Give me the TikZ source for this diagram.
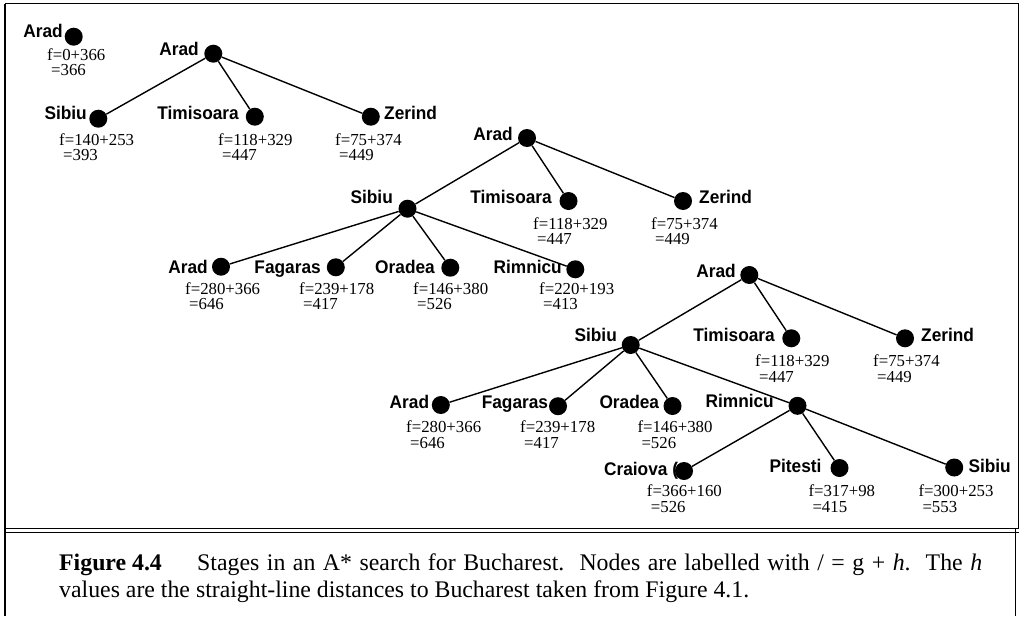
\documentclass[tikz,border=0pt]{standalone}
\usepackage{fontspec}
\setmainfont{Liberation Serif}
\newfontfamily\lblfont[FakeStretch=0.945]{Liberation Sans}
% f-value under a node: name, x, baseline y, g+h, sum
\newcommand\fgh[5]{%
  \node[fval] (#1f) at (#2,#3) {f=#4};
  \node[fval] (#1g) at ([shift={(4,15.5)}]#2,#3) {=#5};}
\begin{document}
\begin{tikzpicture}[x=1pt,y=-1pt,
  dot/.style={circle,fill=black,inner sep=0pt,minimum size=18pt},
  edge/.style={line width=1.4pt},
  cityfont/.style={font=\lblfont\bfseries\fontsize{18.3}{20}\selectfont},
  cityL/.style={cityfont,anchor=base east,inner sep=0pt},
  cityR/.style={cityfont,anchor=base west,inner sep=0pt},
  fval/.style={anchor=base west,inner sep=0pt,font=\fontsize{16.8}{18}\selectfont},
  frame/.style={line width=1.3pt},
  capt/.style={anchor=base west,inner sep=0pt,font=\fontsize{23.8}{26}\selectfont},
]
\useasboundingbox (0,0) rectangle (1024,616);

% outer frame and the double rule above the caption
\draw[frame] (5,3.5) -- (1018.5,3.5) -- (1018.5,528.5);
\draw[frame] (5,3.5) -- (5,616);
\draw[frame] (1015.5,528.5) -- (1015.5,616);
\draw[frame] (5,528.5) -- (1018.5,528.5);
\draw[frame] (5,532.3) -- (1018.5,532.3);

% stage 1
\node[dot] (t1a) at (73.7,36.7) {};
\node[cityL] (t1aL) at (63,37) {Arad};
\fgh{t1a}{47}{60}{0+366}{366}

% stage 2
\node[dot] (t2a) at (213.3,53.7) {};
\node[dot] (t2s) at (98.3,118.7) {};
\node[dot] (t2t) at (254.8,116.7) {};
\node[dot] (t2z) at (370.8,116.7) {};
\node[cityL] (t2aL) at (199,55) {Arad};
\node[cityL] (t2sL) at (87,119) {Sibiu};
\node[cityL] (t2tL) at (239,119) {Timisoara};
\node[cityR] (t2zL) at (384,119) {Zerind};
\fgh{t2s}{59}{145}{140+253}{393}
\fgh{t2t}{218}{145}{118+329}{447}
\fgh{t2z}{335}{145}{75+374}{449}
\draw[edge] (t2a) -- (t2s);
\draw[edge] (t2a) -- (t2t);
\draw[edge] (t2a) -- (t2z);

% stage 3
\node[dot] (t3a) at (527,138) {};
\node[dot] (t3s) at (407.5,208.7) {};
\node[dot] (t3t) at (568.5,201) {};
\node[dot] (t3z) at (683,201) {};
\node[cityL] (t3aL) at (513,140) {Arad};
\node[cityL] (t3sL) at (393,203) {Sibiu};
\node[cityL] (t3tL) at (552,203) {Timisoara};
\node[cityR] (t3zL) at (699,203) {Zerind};
\fgh{t3t}{533}{229}{118+329}{447}
\fgh{t3z}{651}{229}{75+374}{449}
\node[dot] (t3sa) at (221,266.7) {};
\node[dot] (t3sf) at (335.8,267.3) {};
\node[dot] (t3so) at (450.3,267.7) {};
\node[dot] (t3sr) at (575.3,269.3) {};
\node[cityL] (t3saL) at (208,273) {Arad};
\node[cityL] (t3sfL) at (321,273) {Fagaras};
\node[cityL] (t3soL) at (435,273) {Oradea};
\node[cityL] (t3srL) at (562,273) {Rimnicu};
\fgh{t3sa}{185}{294}{280+366}{646}
\fgh{t3sf}{299}{294}{239+178}{417}
\fgh{t3so}{413}{294}{146+380}{526}
\fgh{t3sr}{539}{294}{220+193}{413}
\draw[edge] (t3a) -- (t3s);
\draw[edge] (t3a) -- (t3t);
\draw[edge] (t3a) -- (t3z);
\draw[edge] (t3s) -- (t3sa);
\draw[edge] (t3s) -- (t3sf);
\draw[edge] (t3s) -- (t3so);
\draw[edge] (t3s) -- (t3sr);

% stage 4
\node[dot] (t4a) at (749.3,275) {};
\node[dot] (t4s) at (630.7,345) {};
\node[dot] (t4t) at (791.3,338.3) {};
\node[dot] (t4z) at (905,338.3) {};
\node[cityL] (t4aL) at (736,277) {Arad};
\node[cityL] (t4sL) at (617,341.7) {Sibiu};
\node[cityL] (t4tL) at (775,341.7) {Timisoara};
\node[cityR] (t4zL) at (921,341.7) {Zerind};
\fgh{t4t}{755}{366.7}{118+329}{447}
\fgh{t4z}{873}{366.7}{75+374}{449}
\node[dot] (t4sa) at (440.8,405) {};
\node[dot] (t4sf) at (558,406.2) {};
\node[dot] (t4so) at (672.5,406) {};
\node[dot] (t4sr) at (797.5,405.8) {};
\node[cityL] (t4saL) at (429.3,408) {Arad};
\node[cityL] (t4sfL) at (548.3,408) {Fagaras};
\node[cityL] (t4soL) at (659.3,408) {Oradea};
\node[cityL] (t4srL) at (774,407.3) {Rimnicu};
\fgh{t4sa}{406}{432.7}{280+366}{646}
\fgh{t4sf}{520}{432.7}{239+178}{417}
\fgh{t4so}{637.3}{432.7}{146+380}{526}
\node[cityL] (t4rcL) at (678.3,475) {Craiova (};
\node[cityL] (t4rpL) at (821.7,472.7) {Pitesti};
\node[cityR] (t4rsL) at (968.3,472) {Sibiu};
\node[dot] (t4rc) at (684,471) {};
\node[dot] (t4rp) at (839.5,468) {};
\node[dot] (t4rs) at (954.2,467.5) {};
\fgh{t4rc}{646.7}{496.7}{366+160}{526}
\fgh{t4rp}{808.3}{496.7}{317+98}{415}
\fgh{t4rs}{918.3}{496.7}{300+253}{553}
\draw[edge] (t4a) -- (t4s);
\draw[edge] (t4a) -- (t4t);
\draw[edge] (t4a) -- (t4z);
\draw[edge] (t4s) -- (t4sa);
\draw[edge] (t4s) -- (t4sf);
\draw[edge] (t4s) -- (t4so);
\draw[edge] (t4s) -- (t4sr);
\draw[edge] (t4sr) -- (t4rc);
\draw[edge] (t4sr) -- (t4rp);
\draw[edge] (t4sr) -- (t4rs);

% caption
\node[capt] (figno) at (59,570.5) {\bfseries Figure 4.4};
\node[capt] (cap1) at (197,570.5) {\hbox to 785pt{Stages in an A* search for Bucharest.\ \ Nodes are labelled with / = g + \textit{h}.\ \ The \textit{h}}};
\node[capt] (cap2) at (59,597) {values are the straight-line distances to Bucharest taken from Figure 4.1.};
\end{tikzpicture}
\end{document}
